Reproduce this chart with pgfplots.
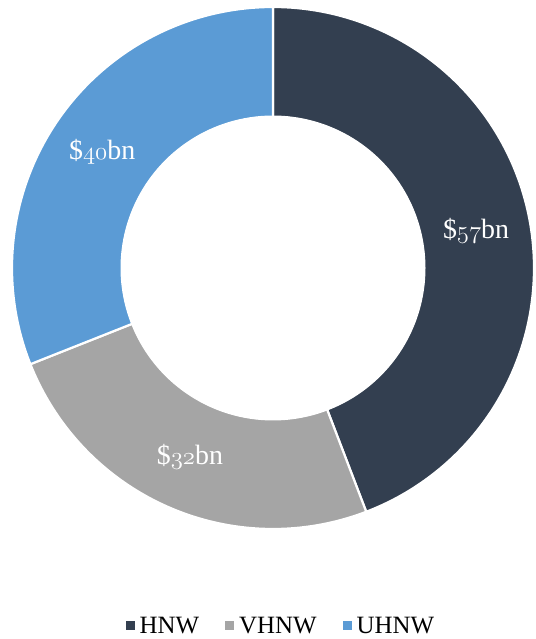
\documentclass[border=0pt]{standalone}
\usepackage{pgfplots}
\pgfplotsset{compat=1.18}
\usepackage{fontspec}
\setmainfont{Liberation Serif}
\definecolor{hnw}{HTML}{333F50}
\definecolor{vhnw}{HTML}{A5A5A5}
\definecolor{uhnw}{HTML}{5B9BD5}
% values (bn)
\def\vA{57}\def\vB{32}\def\vC{40}
\pgfmathsetmacro{\tot}{\vA+\vB+\vC}
\pgfmathsetmacro{\aA}{90}
\pgfmathsetmacro{\aB}{90-360/\tot*\vA}
\pgfmathsetmacro{\aC}{\aB-360/\tot*\vB}
\pgfmathsetmacro{\aD}{-270}
\def\cx{273}\def\cy{371}\def\R{261}\def\r{152}
\pgfmathsetmacro{\mA}{(\aA+\aB)/2}
\pgfmathsetmacro{\mB}{(\aB+\aC)/2}
\pgfmathsetmacro{\mC}{(\aC+\aD)/2}
\newcommand\lab[1]{\$\ensuremath{\mathnormal{#1}}bn}
\begin{document}
\begin{tikzpicture}
\begin{axis}[
  scale only axis, width=533bp, height=639bp,
  xmin=0, xmax=533, ymin=0, ymax=639,
  hide axis, clip=false,
  legend style={at={(0.527,0.0)}, anchor=south, draw=none, fill=none,
    legend columns=3, font=\fontsize{25}{28}\selectfont,
    /tikz/every even column/.append style={column sep=24bp},
    /tikz/every odd column/.append style={column sep=3bp},
    yshift=0bp},
  legend image code/.code={\fill[#1,draw=none] (0bp,-4.5bp) rectangle (9bp,4.5bp);},
]
\addplot[fill=hnw, draw=white, line width=2.2bp, domain=\aB:\aA, samples=120, variable=\t]
  ({\cx+\R*cos(t)},{\cy+\R*sin(t)}) -- (axis cs:\cx,\cy) -- cycle;
\addlegendentry{HNW}
\addplot[fill=vhnw, draw=white, line width=2.2bp, domain=\aC:\aB, samples=120, variable=\t]
  ({\cx+\R*cos(t)},{\cy+\R*sin(t)}) -- (axis cs:\cx,\cy) -- cycle;
\addlegendentry{VHNW}
\addplot[fill=uhnw, draw=white, line width=2.2bp, domain=\aD:\aC, samples=120, variable=\t]
  ({\cx+\R*cos(t)},{\cy+\R*sin(t)}) -- (axis cs:\cx,\cy) -- cycle;
\addlegendentry{UHNW}
\addplot[fill=white, draw=white, line width=1bp, domain=0:360, samples=180, variable=\t, forget plot]
  ({\cx+\r*cos(t)},{\cy+\r*sin(t)}) -- cycle;
\pgfmathsetmacro{\rl}{(\R+\r)/2}
\node[text=white, font=\fontsize{28}{32}\selectfont] at (axis cs:{\cx+\rl*cos(\mA)},{\cy+\rl*sin(\mA)}) {\lab{57}};
\node[text=white, font=\fontsize{28}{32}\selectfont] at (axis cs:{\cx+\rl*cos(\mB)},{\cy+\rl*sin(\mB)}) {\lab{32}};
\node[text=white, font=\fontsize{28}{32}\selectfont] at (axis cs:{\cx+\rl*cos(\mC)},{\cy+\rl*sin(\mC)}) {\lab{40}};
\path (rel axis cs:0,0) rectangle (rel axis cs:1,1);
\end{axis}
\end{tikzpicture}
\end{document}
